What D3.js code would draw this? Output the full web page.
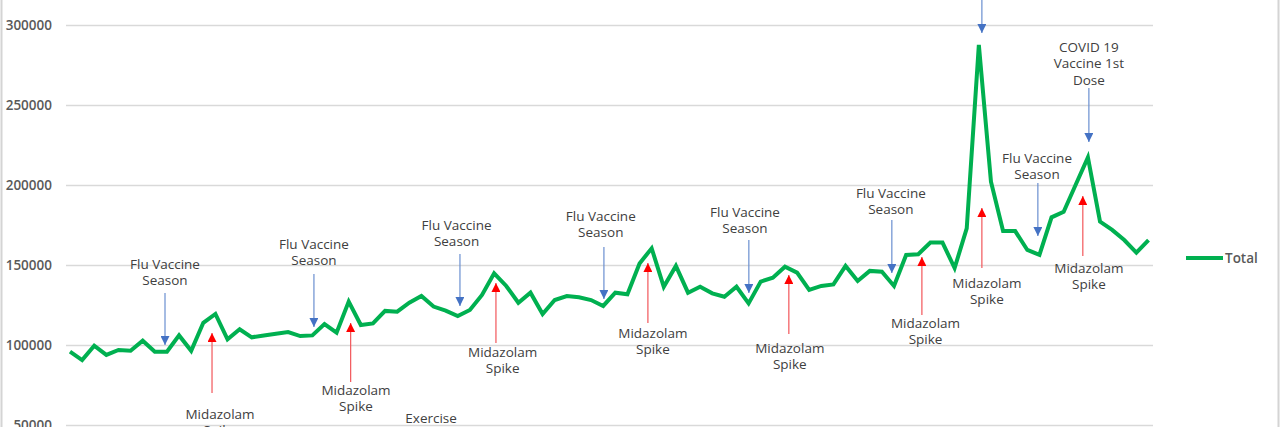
<!DOCTYPE html>
<html>
<head>
<meta charset="utf-8">
<script src="https://cdn.jsdelivr.net/npm/d3@7"></script>
<style>
  body { margin: 0; background: #fff; }
  text { font-family: "Open Sans", "Noto Sans", sans-serif; }
</style>
</head>
<body>
<div id="vis"></div>
<script>
// monthly totals
let totals = [
    95800, 90600, 99600, 93800, 96900, 96400, 102700, 95800, 95800, 106000,
    96400, 113900, 119400, 103500, 109800, 104800, 106000, 107000, 108100, 105600,
    106000, 113100, 107700, 127100, 112500, 113500, 121300, 120800, 126400, 130600,
    124000, 121500, 118100, 121900, 131300, 144800, 136900, 126400, 132700, 119400,
    128100, 130600, 129800, 128100, 124400, 132700, 131700, 151000, 160400, 136400,
    149400, 132700, 136400, 132300, 130200, 136400, 126000, 139600, 142100, 148900,
    145200, 134400, 136900, 137900, 149400, 140000, 146300, 145800, 136900, 156300,
    156700, 164000, 164000, 148100, 172900, 287500, 202100, 171200, 171200, 159400,
    156300, 179800, 183300, 200300, 217300, 177100, 171900, 165600, 157800, 165600
]

let yTicks = [50000, 100000, 150000, 200000, 250000, 300000]
let seriesName = 'Total'

// annotations: i = arrow position (month index), ti = text position,
// textV = value at first text line, from/to = arrow ends in value units
let notes = [
    {kind: 'flu', i: 7.84, ti: 7.84, lines: ['Flu Vaccine', 'Season'], textV: 150600, from: 132500, to: 100000},
    {kind: 'mid', i: 11.72, ti: 12.38, lines: ['Midazolam', 'Spike'], textV: 56900, from: 70000, to: 107500},
    {kind: 'flu', i: 20.13, ti: 20.13, lines: ['Flu Vaccine', 'Season'], textV: 163100, from: 144400, to: 111250},
    {kind: 'mid', i: 23.16, ti: 23.6, lines: ['Midazolam', 'Spike'], textV: 71900, from: 76900, to: 113750},
    {kind: 'txt', i: 29.8, ti: 29.8, lines: ['Exercise'], textV: 54400},
    {kind: 'flu', i: 32.18, ti: 31.9, lines: ['Flu Vaccine', 'Season'], textV: 175000, from: 156900, to: 124400},
    {kind: 'mid', i: 35.15, ti: 35.7, lines: ['Midazolam', 'Spike'], textV: 95600, from: 101250, to: 138750},
    {kind: 'flu', i: 44.06, ti: 43.8, lines: ['Flu Vaccine', 'Season'], textV: 180600, from: 161250, to: 128750},
    {kind: 'mid', i: 47.69, ti: 48.1, lines: ['Midazolam', 'Spike'], textV: 107500, from: 113750, to: 151250},
    {kind: 'flu', i: 56.02, ti: 55.7, lines: ['Flu Vaccine', 'Season'], textV: 183100, from: 165600, to: 132500},
    {kind: 'mid', i: 59.32, ti: 59.4, lines: ['Midazolam', 'Spike'], textV: 98100, from: 106900, to: 143750},
    {kind: 'flu', i: 67.82, ti: 67.74, lines: ['Flu Vaccine', 'Season'], textV: 195000, from: 178100, to: 145000},
    {kind: 'mid', i: 70.3, ti: 70.6, lines: ['Midazolam', 'Spike'], textV: 113750, from: 118750, to: 155000},
    {kind: 'flu', i: 75.25, ti: 75.25, lines: [], textV: 330000, from: 320000, to: 295000},
    {kind: 'mid', i: 75.25, ti: 75.66, lines: ['Midazolam', 'Spike'], textV: 138750, from: 148100, to: 185600},
    {kind: 'flu', i: 79.87, ti: 79.8, lines: ['Flu Vaccine', 'Season'], textV: 216900, from: 201250, to: 168100},
    {kind: 'flu', i: 84.08, ti: 84.08, lines: ['COVID 19', 'Vaccine 1st', 'Dose'], textV: 286250, from: 260600, to: 226900},
    {kind: 'mid', i: 83.58, ti: 84.08, lines: ['Midazolam', 'Spike'], textV: 148100, from: 155600, to: 193100}
]

let width = 1280, height = 427

let svg = d3.select('#vis')
    .append('svg')
    .attr('width', width)
    .attr('height', height)

let x = d3.scaleLinear().domain([0, totals.length - 1]).range([70, 1148.5])
let y = d3.scaleLinear().domain([50000, 300000]).range([425, 25])

// arrow heads
let defs = svg.append('defs')
let heads = {flu: '#4472c4', mid: '#ff0000'}
Object.keys(heads).forEach(k => {
    defs.append('marker')
        .attr('id', 'head-' + k)
        .attr('viewBox', '0 0 10 10')
        .attr('refX', 10).attr('refY', 5)
        .attr('markerWidth', 10).attr('markerHeight', 9)
        .attr('markerUnits', 'userSpaceOnUse')
        .attr('orient', 'auto')
        .append('path')
        .attr('d', 'M0,0 L10,5 L0,10 Z')
        .attr('fill', heads[k])
})

// frame
svg.append('line').attr('x1', 1.5).attr('x2', 1.5).attr('y1', 0).attr('y2', height)
    .attr('stroke', '#d4d4d4').attr('stroke-width', 2)
svg.append('line').attr('x1', 1278.5).attr('x2', 1278.5).attr('y1', 0).attr('y2', height)
    .attr('stroke', '#d4d4d4').attr('stroke-width', 2)

// gridlines + y labels
let yAxis = d3.axisLeft(y)
    .tickValues(yTicks)
    .tickSize(-(1153 - 66))
    .tickFormat(d3.format('d'))
    .tickPadding(14)

let gy = svg.append('g')
    .attr('transform', 'translate(66,0)')
    .call(yAxis)
gy.select('.domain').remove()
gy.selectAll('.tick line').attr('stroke', '#d9d9d9').attr('stroke-width', 1.3)
gy.selectAll('.tick text')
    .attr('fill', '#595959')
    .style('font-size', '13.5px')
    .style('font-weight', '600')

// the series
let line = d3.line()
    .x((d, i) => x(i))
    .y(d => y(d))

svg.append('path')
    .datum(totals)
    .attr('d', line)
    .attr('fill', 'none')
    .attr('stroke', '#00b050')
    .attr('stroke-width', 4)
    .attr('stroke-linejoin', 'miter')

// annotations
let ann = svg.append('g')
notes.forEach(n => {
    if (n.kind !== 'txt') {
        ann.append('line')
            .attr('x1', x(n.i)).attr('x2', x(n.i))
            .attr('y1', y(n.from)).attr('y2', y(n.to))
            .attr('stroke', n.kind === 'mid' ? '#f2565a' : '#6a8fd0')
            .attr('stroke-width', 1.2)
            .attr('marker-end', 'url(#head-' + n.kind + ')')
    }
    n.lines.forEach((t, k) => {
        ann.append('text')
            .attr('x', x(n.ti))
            .attr('y', y(n.textV) + k * 16.5)
            .attr('dy', '0.35em')
            .attr('text-anchor', 'middle')
            .attr('fill', '#404040')
            .style('font-size', '13.5px')
            .text(t)
    })
})

// legend
svg.append('line')
    .attr('x1', 1186).attr('x2', 1223)
    .attr('y1', 258).attr('y2', 258)
    .attr('stroke', '#00b050').attr('stroke-width', 4)
svg.append('text')
    .attr('x', 1225).attr('y', 258)
    .attr('dy', '0.35em')
    .attr('fill', '#595959')
    .style('font-size', '13.5px')
    .style('font-weight', '600')
    .text(seriesName)
</script>
</body>
</html>
